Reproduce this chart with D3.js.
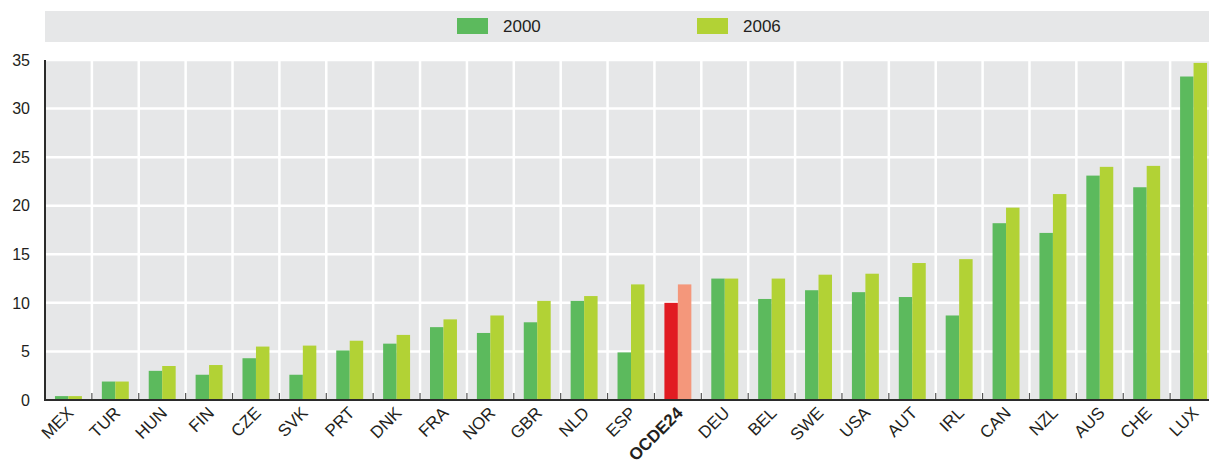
<!DOCTYPE html>
<html lang="fr">
<head>
  <meta charset="UTF-8" />
  <title>2000 / 2006</title>
  <script src="https://d3js.org/d3.v7.min.js"></script>
  <style>
    body { margin: 0; background: #fff; }
    svg { display: block; font-family: "Liberation Sans", Arial, sans-serif; }
    .tick-label { font-size: 16px; fill: #231f20; }
    .cat-label { font-family: "Liberation Sans Narrow", "Liberation Sans", Arial, sans-serif; font-size: 17px; fill: #231f20; }
    .legend-text { font-size: 17px; fill: #231f20; }
  </style>
</head>
<body>

<svg width="1209" height="462"></svg>

<script>
  // Données
  const countries = ["MEX","TUR","HUN","FIN","CZE","SVK","PRT","DNK","FRA","NOR","GBR","NLD","ESP",
                     "OCDE24","DEU","BEL","SWE","USA","AUT","IRL","CAN","NZL","AUS","CHE","LUX"];
  const years = ["2000", "2006"];
  const values2000 = [0.4,1.9,3.0,2.6,4.3,2.6,5.1,5.8,7.5,6.9,8.0,10.2,4.9,
                      10.0,12.5,10.4,11.3,11.1,10.6,8.7,18.2,17.2,23.1,21.9,33.3];
  const values2006 = [0.4,1.9,3.5,3.6,5.5,5.6,6.1,6.7,8.3,8.7,10.2,10.7,11.9,
                      11.9,12.5,12.5,12.9,13.0,14.1,14.5,19.8,21.2,24.0,24.1,34.7];
  const yTicks = [0, 5, 10, 15, 20, 25, 30, 35];

  const colors = {"2000": "#5cba5d", "2006": "#b2d235"};
  const oecdColors = {"2000": "#e11b22", "2006": "#f4977b"};
  const highlight = "OCDE24";

  const data = countries.map((c, i) => ({country: c, "2000": values2000[i], "2006": values2006[i]}));

  const svg = d3.select("svg");
  const plot = {left: 45, right: 1217, top: 60, bottom: 400};

  const x0 = d3.scaleBand().domain(countries).range([plot.left, plot.right]).padding(0);
  const x1 = d3.scaleBand().domain(years).range([0, x0.bandwidth()]).paddingInner(0).paddingOuter(0.74);
  const y = d3.scaleLinear().domain([0, 35]).range([plot.bottom, plot.top]);

  // Légende
  svg.append("rect")
     .attr("x", plot.left).attr("y", 11)
     .attr("width", 1209 - plot.left).attr("height", 31)
     .attr("fill", "#e6e7e8");

  const legendX = [457, 697];
  years.forEach((yr, i) => {
    svg.append("rect")
       .attr("x", legendX[i]).attr("y", 18)
       .attr("width", 31).attr("height", 16)
       .attr("fill", colors[yr]);
    svg.append("text")
       .attr("class", "legend-text")
       .attr("x", legendX[i] + 46).attr("y", 32)
       .text(yr);
  });

  // Fond du graphique
  svg.append("rect")
     .attr("x", plot.left).attr("y", plot.top)
     .attr("width", plot.right - plot.left).attr("height", plot.bottom - plot.top)
     .attr("fill", "#e6e7e8");

  // Grille horizontale
  svg.append("g")
     .selectAll("line")
     .data(yTicks.filter(d => d > 0))
     .enter()
     .append("line")
     .attr("x1", plot.left).attr("x2", plot.right)
     .attr("y1", d => y(d)).attr("y2", d => y(d))
     .attr("stroke", "#fff").attr("stroke-width", 2.5);

  // Grille verticale
  svg.append("g")
     .selectAll("line")
     .data(countries.slice(1))
     .enter()
     .append("line")
     .attr("x1", d => x0(d)).attr("x2", d => x0(d))
     .attr("y1", plot.top).attr("y2", plot.bottom)
     .attr("stroke", "#fff").attr("stroke-width", 2.5);

  // Barres
  const groups = svg.append("g")
                    .selectAll("g")
                    .data(data)
                    .enter()
                    .append("g")
                    .attr("transform", d => `translate(${x0(d.country)},0)`);

  groups.selectAll("rect")
        .data(d => years.map(yr => ({country: d.country, year: yr, value: d[yr]})))
        .enter()
        .append("rect")
        .attr("x", d => x1(d.year))
        .attr("width", x1.bandwidth())
        .attr("y", d => y(d.value))
        .attr("height", d => y(0) - y(d.value))
        .attr("fill", d => d.country === highlight ? oecdColors[d.year] : colors[d.year]);

  // Petites graduations sur l'axe des X
  svg.append("g")
     .selectAll("line")
     .data(countries.slice(1))
     .enter()
     .append("line")
     .attr("x1", d => x0(d)).attr("x2", d => x0(d))
     .attr("y1", plot.bottom - 7).attr("y2", plot.bottom)
     .attr("stroke", "#555").attr("stroke-width", 1.2);

  // Axes
  svg.append("line")
     .attr("x1", plot.left).attr("x2", plot.right)
     .attr("y1", plot.bottom).attr("y2", plot.bottom)
     .attr("stroke", "#2b2b2b").attr("stroke-width", 2);
  svg.append("line")
     .attr("x1", plot.left).attr("x2", plot.left)
     .attr("y1", plot.top).attr("y2", plot.bottom + 1)
     .attr("stroke", "#2b2b2b").attr("stroke-width", 2);

  // Libellés Y
  svg.append("g")
     .selectAll("text")
     .data(yTicks)
     .enter()
     .append("text")
     .attr("class", "tick-label")
     .attr("x", 30)
     .attr("y", d => y(d))
     .attr("dy", "0.36em")
     .attr("text-anchor", "end")
     .text(d => d);

  // Libellés X
  svg.append("g")
     .selectAll("text")
     .data(countries)
     .enter()
     .append("text")
     .attr("class", "cat-label")
     .attr("text-anchor", "end")
     .attr("transform", d => `translate(${x0(d) + x0.bandwidth() / 2 + 6},${plot.bottom + 14}) rotate(-45)`)
     .style("font-weight", d => d === highlight ? "bold" : null)
     .text(d => d);
</script>

</body>
</html>
